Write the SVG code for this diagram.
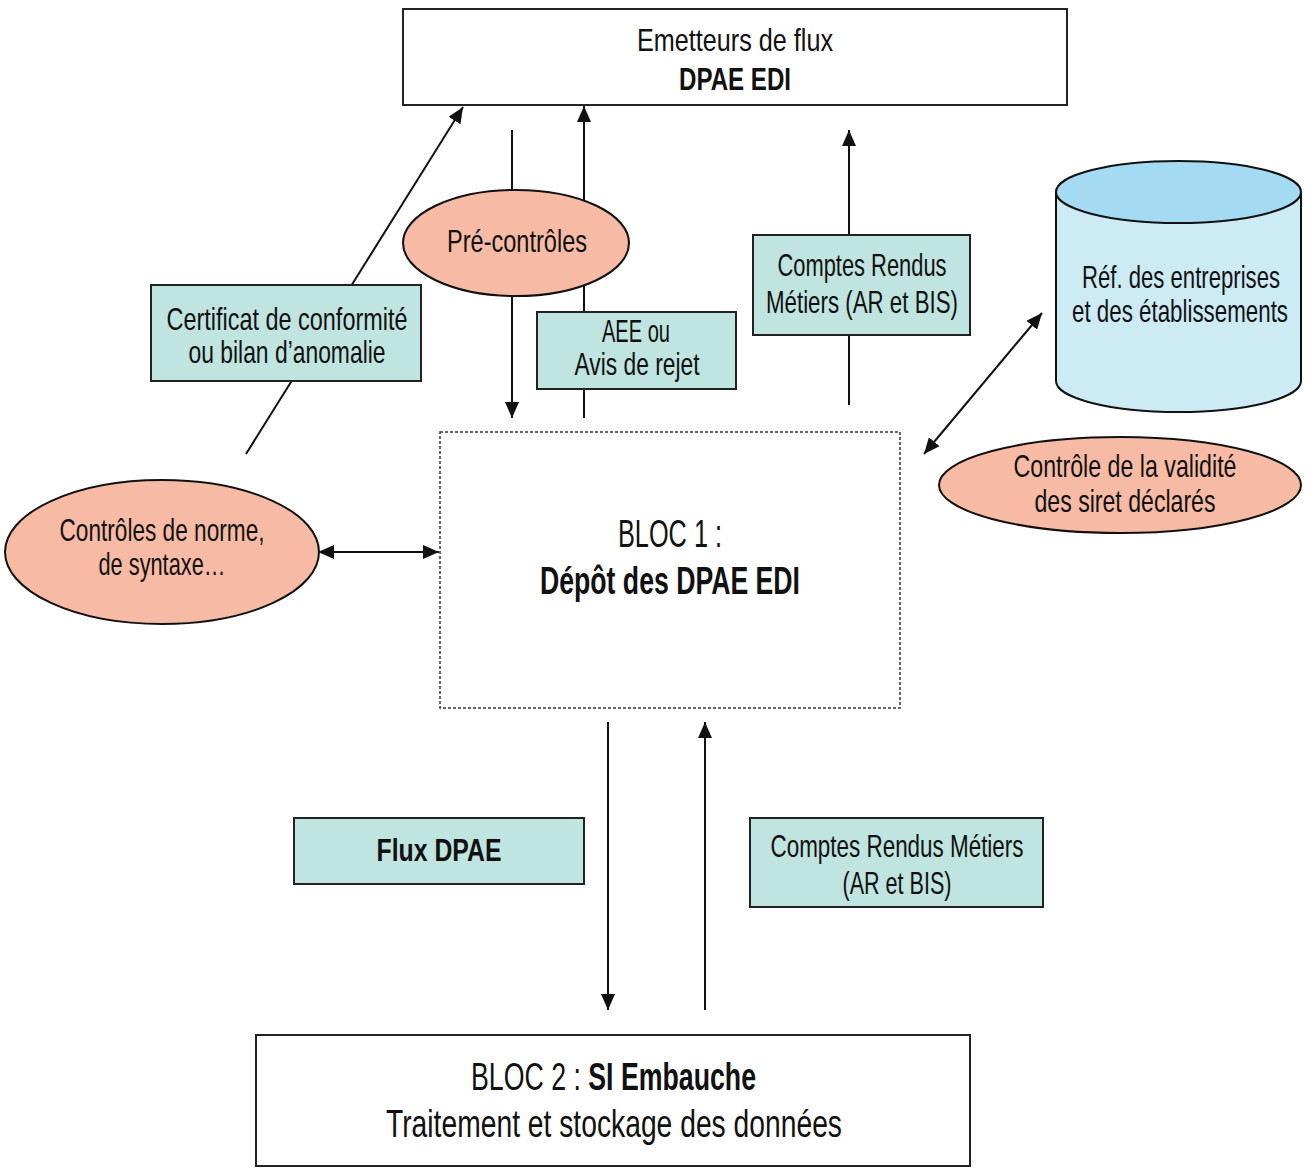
<svg xmlns="http://www.w3.org/2000/svg" width="1311" height="1169" viewBox="0 0 1311 1169">
<style>
text{font-family:"Liberation Sans",Arial,sans-serif;font-size:32px;fill:#111;text-anchor:middle}
.b{font-weight:bold}
.big{font-size:38px}
.box{fill:#fff;stroke:#222;stroke-width:2}
.lbl{fill:#c0e4df;stroke:#222;stroke-width:2}
.ell{fill:#f7bba5;stroke:#111;stroke-width:2}
.ln{stroke:#111;stroke-width:2;fill:none}
</style>
<defs>
<marker id="ah" markerUnits="userSpaceOnUse" markerWidth="16" markerHeight="14" refX="16" refY="7" orient="auto-start-reverse" viewBox="0 0 16 14"><path d="M0,0 L16,7 L0,14 Z" fill="#111"/></marker>
</defs>
<g id="connectors">
<line class="ln" x1="512" y1="130" x2="512" y2="418" marker-end="url(#ah)"/>
<line class="ln" x1="584" y1="418" x2="584" y2="106" marker-end="url(#ah)"/>
<line class="ln" x1="849" y1="405" x2="849" y2="130" marker-end="url(#ah)"/>
<line class="ln" x1="246" y1="454" x2="463" y2="107" marker-end="url(#ah)"/>
<line class="ln" x1="1042" y1="313" x2="924" y2="454" marker-start="url(#ah)" marker-end="url(#ah)"/>
<line class="ln" x1="318" y1="552" x2="439" y2="552" marker-start="url(#ah)" marker-end="url(#ah)"/>
<line class="ln" x1="608" y1="722" x2="608" y2="1010" marker-end="url(#ah)"/>
<line class="ln" x1="705" y1="1010" x2="705" y2="722" marker-end="url(#ah)"/>
</g>
<g id="emetteurs">
<rect class="box" x="403" y="9" width="664" height="96"/>
<text x="735" y="51" textLength="196" lengthAdjust="spacingAndGlyphs">Emetteurs de flux</text>
<text class="b" x="735" y="90" textLength="112" lengthAdjust="spacingAndGlyphs">DPAE EDI</text>
</g>
<g id="precontroles">
<ellipse class="ell" cx="516" cy="243" rx="113" ry="53"/>
<text x="517" y="252" textLength="140" lengthAdjust="spacingAndGlyphs">Pré-contrôles</text>
</g>
<g id="aee">
<rect class="lbl" x="537" y="312" width="199" height="77"/>
<text x="636" y="342" textLength="68" lengthAdjust="spacingAndGlyphs">AEE ou</text>
<text x="637" y="375" textLength="125" lengthAdjust="spacingAndGlyphs">Avis de rejet</text>
</g>
<g id="cr-haut">
<rect class="lbl" x="753" y="235" width="217" height="100"/>
<text x="862" y="276" textLength="169" lengthAdjust="spacingAndGlyphs">Comptes Rendus</text>
<text x="862" y="313" textLength="192" lengthAdjust="spacingAndGlyphs">Métiers (AR et BIS)</text>
</g>
<g id="certificat">
<rect class="lbl" x="151" y="285" width="270" height="96"/>
<text x="287" y="330" textLength="241" lengthAdjust="spacingAndGlyphs">Certificat de conformité</text>
<text x="287" y="363" textLength="197" lengthAdjust="spacingAndGlyphs">ou bilan d’anomalie</text>
</g>
<g id="referentiel">
<path d="M1056,192 L1056,381 A122.5,31 0 0 0 1301,381 L1301,192" fill="#cdebf5" stroke="#111" stroke-width="2"/>
<ellipse cx="1178.5" cy="192" rx="122.5" ry="31" fill="#a5daf3" stroke="#111" stroke-width="2"/>
<text x="1181" y="288" textLength="198" lengthAdjust="spacingAndGlyphs">Réf. des entreprises</text>
<text x="1180" y="322" textLength="216" lengthAdjust="spacingAndGlyphs">et des établissements</text>
</g>
<g id="controle-siret">
<ellipse class="ell" cx="1120" cy="485" rx="181" ry="48"/>
<text x="1125" y="477" textLength="223" lengthAdjust="spacingAndGlyphs">Contrôle de la validité</text>
<text x="1125" y="512" textLength="181" lengthAdjust="spacingAndGlyphs">des siret déclarés</text>
</g>
<g id="bloc1">
<rect x="440" y="432" width="460" height="276" fill="#fff" stroke="#333" stroke-width="1.5" stroke-dasharray="3,2"/>
<text class="big" x="670" y="547" textLength="104" lengthAdjust="spacingAndGlyphs">BLOC 1 :</text>
<text class="big b" x="670" y="594" textLength="260" lengthAdjust="spacingAndGlyphs">Dépôt des DPAE EDI</text>
</g>
<g id="controles-norme">
<ellipse class="ell" cx="162" cy="552" rx="157" ry="72"/>
<text x="162" y="541" textLength="205" lengthAdjust="spacingAndGlyphs">Contrôles de norme,</text>
<text x="162" y="575" textLength="127" lengthAdjust="spacingAndGlyphs">de syntaxe…</text>
</g>
<g id="flux-dpae">
<rect class="lbl" x="294" y="818" width="290" height="66"/>
<text class="b" x="439" y="861" textLength="125" lengthAdjust="spacingAndGlyphs">Flux DPAE</text>
</g>
<g id="cr-bas">
<rect class="lbl" x="750" y="818" width="293" height="89"/>
<text x="897" y="857" textLength="253" lengthAdjust="spacingAndGlyphs">Comptes Rendus Métiers</text>
<text x="897" y="894" textLength="109" lengthAdjust="spacingAndGlyphs">(AR et BIS)</text>
</g>
<g id="bloc2">
<rect class="box" x="256" y="1035" width="714" height="131"/>
<text class="big" x="613.5" y="1090" textLength="285" lengthAdjust="spacingAndGlyphs">BLOC 2 : <tspan class="b">SI Embauche</tspan></text>
<text class="big" x="614" y="1137" textLength="456" lengthAdjust="spacingAndGlyphs">Traitement et stockage des données</text>
</g>
</svg>
